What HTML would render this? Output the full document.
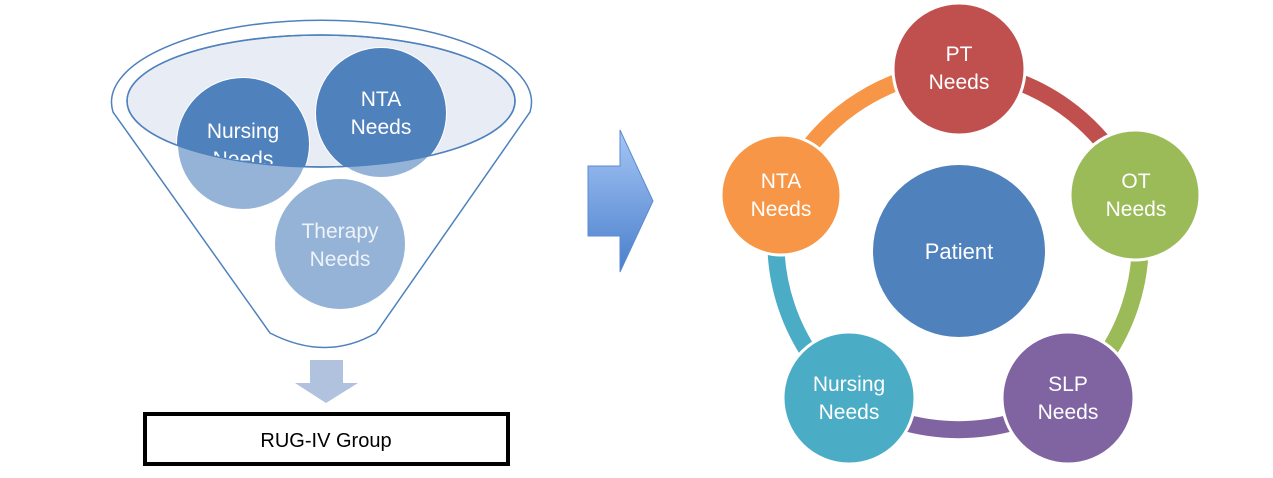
<!DOCTYPE html>
<html><head><meta charset="utf-8"><style>
html,body{margin:0;padding:0;background:#fff;}
svg{display:block;}
text{font-family:"Liberation Sans",sans-serif;}
</style></head><body>
<svg width="1273" height="478" viewBox="0 0 1273 478" xmlns="http://www.w3.org/2000/svg">
<defs>
<clipPath id="inner"><ellipse cx="321" cy="101" rx="194" ry="66"/></clipPath>
<linearGradient id="ag" x1="0" y1="0" x2="0" y2="1">
<stop offset="0" stop-color="#a6c6f5"/><stop offset="1" stop-color="#4a7fcc"/>
</linearGradient>
</defs>
<path d="M113,112 A210,82 0 1 1 530,112 L376,333 Q326,362 270,333 Z" fill="#fff" stroke="#4f81bd" stroke-width="1.5"/>
<ellipse cx="321" cy="101" rx="194" ry="66" fill="#e7ecf5" stroke="#4f81bd" stroke-width="1.5"/>
<circle cx="243" cy="144" r="66" fill="#95b3d7" stroke="#fff" stroke-width="2"/>
<circle cx="381" cy="113" r="65" fill="#95b3d7" stroke="#fff" stroke-width="2"/>
<circle cx="340" cy="244" r="65" fill="#95b3d7"/>
<g clip-path="url(#inner)">
<circle cx="243" cy="144" r="66" fill="#4f81bd"/>
<circle cx="381" cy="113" r="65" fill="#4f81bd"/>
<text x="243" y="138" font-size="21" fill="#fff" text-anchor="middle">Nursing</text>
<text x="243" y="166" font-size="21" fill="#fff" text-anchor="middle">Needs</text>
</g>
<ellipse cx="321" cy="101" rx="194" ry="66" fill="none" stroke="#4f81bd" stroke-width="1.5"/>
<text x="381" y="106" font-size="21" fill="#fff" text-anchor="middle">NTA</text>
<text x="381" y="134" font-size="21" fill="#fff" text-anchor="middle">Needs</text>
<text x="340" y="238" font-size="21" fill="#eef3fa" text-anchor="middle">Therapy</text>
<text x="340" y="266" font-size="21" fill="#eef3fa" text-anchor="middle">Needs</text>
<path d="M310,360 H343 V383 H358 L326,403 L295,383 H310 Z" fill="#b0c2de"/>
<rect x="145" y="414" width="363" height="50" fill="#fff" stroke="#000" stroke-width="4"/>
<text x="326" y="447" font-size="20" fill="#000" text-anchor="middle">RUG-IV Group</text>
<path d="M588,166 H620 V130 L653,201 L620,272 V236 H588 Z" fill="url(#ag)" stroke="#5b8bd0" stroke-width="1"/>
<g fill="none" stroke-width="17">
<path d="M959,69 A205,205 0 0 1 1135,195" stroke="#c0504d"/>
<path d="M1135,195 A205,205 0 0 1 1068,398" stroke="#9bbb59"/>
<path d="M1068,398 A205,205 0 0 1 849,398" stroke="#8064a2"/>
<path d="M849,398 A205,205 0 0 1 781,195" stroke="#4bacc6"/>
<path d="M781,195 A205,205 0 0 1 959,69" stroke="#f79646"/>
</g>
<g stroke="#fff" stroke-width="3">
<circle cx="959" cy="69" r="66" fill="#c0504d"/>
<circle cx="1135" cy="195" r="65" fill="#9bbb59"/>
<circle cx="1068" cy="398" r="66" fill="#8064a2"/>
<circle cx="849" cy="398" r="66" fill="#4bacc6"/>
<circle cx="781" cy="195" r="60" fill="#f79646"/>
</g>
<circle cx="959" cy="251" r="86" fill="#4f81bd"/>
<g font-size="21" fill="#fff" text-anchor="middle">
<text x="959" y="61">PT</text><text x="959" y="89">Needs</text>
<text x="1136" y="188">OT</text><text x="1136" y="216">Needs</text>
<text x="1068" y="391">SLP</text><text x="1068" y="419">Needs</text>
<text x="849" y="391">Nursing</text><text x="849" y="419">Needs</text>
<text x="781" y="188">NTA</text><text x="781" y="216">Needs</text>
<text x="959" y="259" font-size="22">Patient</text>
</g>
</svg>
</body></html>
